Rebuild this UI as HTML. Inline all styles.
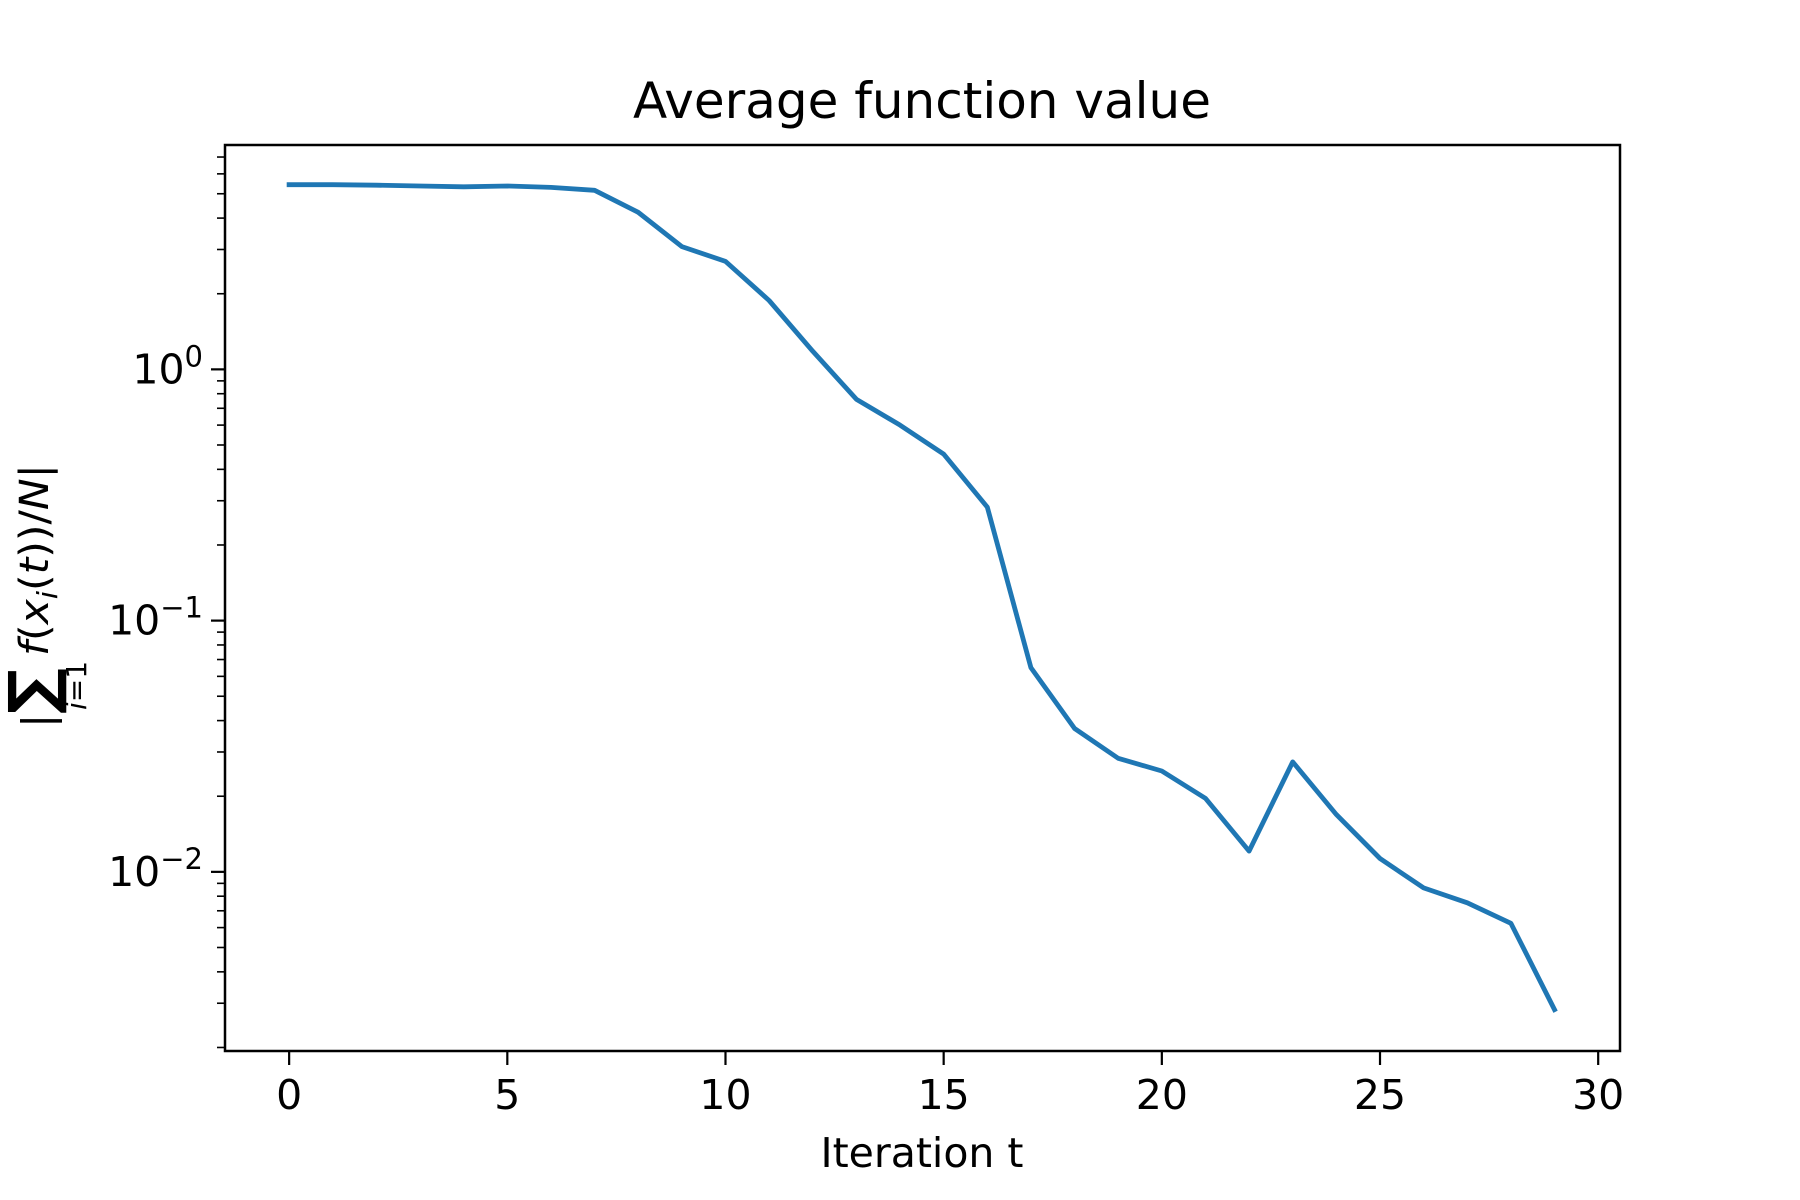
<!DOCTYPE html>
<html><head><meta charset="utf-8"><style>
html,body{margin:0;padding:0;background:#fff;}
svg{display:block;font-family:"DejaVu Sans","Liberation Sans",sans-serif;}
</style></head><body>
<svg id="chart" width="1800" height="1200" viewBox="0 0 1800 1200">
<rect width="1800" height="1200" fill="#fff"/>
<text x="922" y="118" font-size="50" text-anchor="middle">Average function value</text>
<text x="922" y="1167" font-size="41" text-anchor="middle">Iteration t</text>
<g transform="translate(52,594) rotate(-90)">
<text x="-134" y="0" font-size="42">|</text>
<text x="-120" y="2" font-size="64" font-weight="bold">∑</text>
<text x="-116" y="34" font-size="28"><tspan font-style="italic">i</tspan>=1</text>
<text x="-62" y="-4" font-size="40" textLength="192" lengthAdjust="spacingAndGlyphs"><tspan font-style="italic">f</tspan><tspan>(</tspan><tspan font-style="italic">x</tspan><tspan font-size="28" font-style="italic" dy="9">i</tspan><tspan dy="-9">(</tspan><tspan font-style="italic">t</tspan><tspan>))/</tspan><tspan font-style="italic">N</tspan><tspan>|</tspan></text>
</g>
<g id="axes"></g>
</svg>
<script>
const iterations = [0,1,2,3,4,5,6,7,8,9,10,11,12,13,14,15,16,17,18,19,20,21,22,23,24,25,26,27,28,29];
const avgValues = [5.43,5.43,5.41,5.37,5.33,5.37,5.3,5.16,4.22,3.08,2.69,1.88,1.18,0.76,0.60,0.46,0.283,0.065,0.0372,0.0283,0.0252,0.0196,0.0121,0.0274,0.0169,0.0113,0.00863,0.00753,0.00624,0.00283];
const xTicks = [0,5,10,15,20,25,30];
const yDecades = [0,-1,-2];

const L=225,R=1620,T=145,B=1051;
const xMin=-1.47,xMax=30.5;
const logTop=0.893,logBot=-2.713;
function xs(v){return L+(v-xMin)/(xMax-xMin)*(R-L);}
function ys(v){return T+(logTop-Math.log10(v))/(logTop-logBot)*(B-T);}
const NS="http://www.w3.org/2000/svg";
const g=document.getElementById('axes');
function mk(tag,attrs){const e=document.createElementNS(NS,tag);for(const k in attrs)e.setAttribute(k,attrs[k]);g.appendChild(e);return e;}

let d='';
iterations.forEach((t,i)=>{d+=(i?'L':'M')+xs(t).toFixed(1)+','+ys(avgValues[i]).toFixed(1);});
const line=mk('path',{d:d,fill:'none',stroke:'#1f77b4','stroke-width':4.8,'stroke-linejoin':'round','stroke-linecap':'square'});



xTicks.forEach(v=>{
  const x=xs(v);
  const tk=mk('line',{x1:x,x2:x,y1:B,y2:B+14,stroke:'#000','stroke-width':2.2});
  
  
  const lb=mk('text',{x:x,y:B+58,'font-size':41,'text-anchor':'middle'});
  lb.textContent=v;
  
  
});
for(let e=-3;e<=0;e++){
  for(let m=1;m<10;m++){
    const v=m*Math.pow(10,e);
    if(Math.log10(v)<logBot||Math.log10(v)>logTop)continue;
    const y=ys(v);
    const major=m===1;
    const tk=mk('line',{x1:L-(major?14:8),x2:L,y1:y,y2:y,stroke:'#000','stroke-width':major?2.2:1.6});
    
    
  }
}
yDecades.forEach(e=>{
  const y=ys(Math.pow(10,e));
  const lb=mk('text',{x:L-22,y:y+14,'font-size':41,'text-anchor':'end'});
  const base=document.createElementNS(NS,'tspan');base.textContent='10';
  const sup=document.createElementNS(NS,'tspan');sup.setAttribute('dy','-17');sup.setAttribute('font-size','29');
  sup.textContent=e===0?'0':'\u2212'+(-e);
  lb.appendChild(base);lb.appendChild(sup);
  
  
});
const frame=mk('rect',{x:L,y:T,width:R-L,height:B-T,fill:'none',stroke:'#000','stroke-width':2.5});


</script>
</body></html>
